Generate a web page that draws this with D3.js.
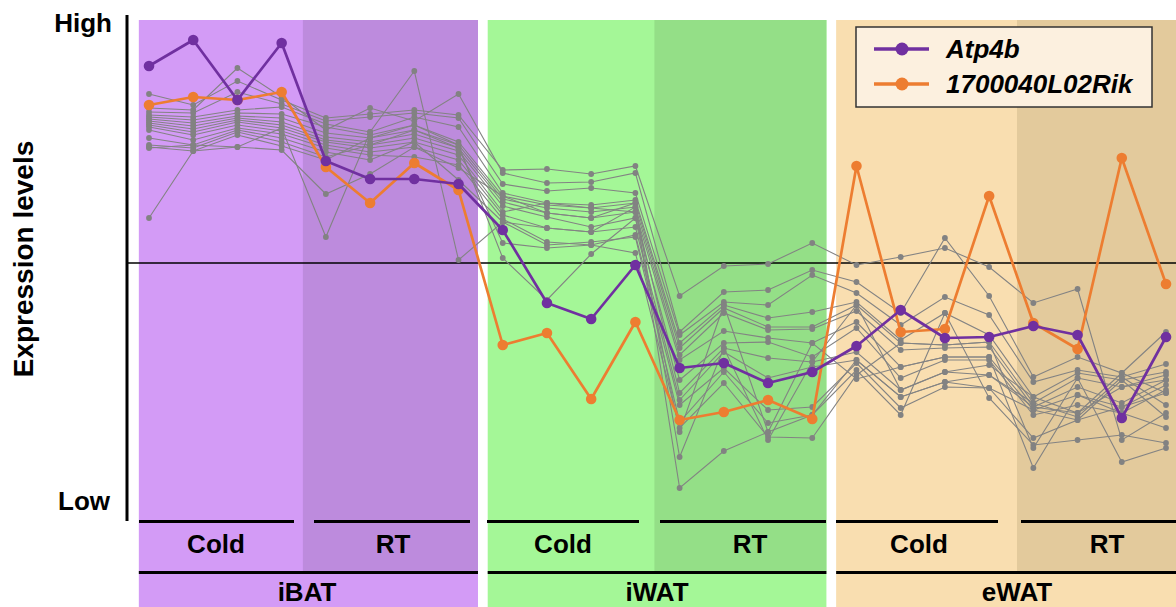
<!DOCTYPE html>
<html>
<head>
<meta charset="utf-8">
<script src="https://cdn.jsdelivr.net/npm/d3@7"></script>
<style>
  html, body { margin: 0; padding: 0; background: #fff; }
  svg { display: block; }
  text { font-family: "Liberation Sans", Arial, sans-serif; font-weight: bold; fill: #000; }
</style>
</head>
<body>
<svg id="chart" width="1176" height="607"></svg>
<script>
// Samples: 3 tissues x 2 conditions x 4 replicates
const tissues = ["iBAT", "iWAT", "eWAT"];
const conditions = ["Cold", "RT"];
const samplesPerCondition = 4;

// Highlighted genes (relative expression, centred at 0)
const atp4b = [1.97, 2.23, 1.63, 2.20, 1.02, 0.84, 0.84, 0.79,
               0.33, -0.40, -0.56, -0.02, -1.05, -1.00, -1.20, -1.09,
               -0.83, -0.47, -0.75, -0.74, -0.63, -0.72, -1.55, -0.74];
const rik1700040L02 = [1.58, 1.66, 1.63, 1.71, 0.96, 0.60, 1.00, 0.73,
               -0.82, -0.70, -1.36, -0.59, -1.57, -1.49, -1.37, -1.56,
               0.97, -0.69, -0.66, 0.67, -0.60, -0.86, 1.05, -0.21];

// Other genes of the cluster
const g01 = [1.69, 1.58, 1.82, 1.63, 1.45, 1.49, 1.53, 1.48, 0.93, 0.94, 0.89, 0.97, -0.33, -0.03, -0.01, 0.20, -0.02, 0.06, 0.15, -0.04, -0.40, -0.26, -1.77, -1.50];
const g02 = [1.55, 1.53, 1.95, 1.66, 1.33, 1.55, 1.42, 1.69, 0.90, 0.80, 0.81, 0.90, -0.69, -0.29, -0.27, -0.07, -0.19, -0.50, 0.25, -0.33, -1.14, -0.94, -1.10, -0.69];
const g03 = [1.51, 1.50, 1.71, 1.59, 1.42, 1.46, 1.50, 1.45, 0.79, 0.72, 0.75, 0.70, -0.72, -0.39, -0.42, -0.12, -0.30, -0.62, -0.34, -0.52, -1.19, -1.07, -1.14, -1.01];
const g04 = [1.48, 1.46, 1.53, 1.56, 1.39, 1.31, 1.46, 1.36, 0.70, 0.60, 0.58, 0.63, -0.80, -0.42, -0.55, -0.49, -0.39, -0.77, -0.50, -0.72, -1.34, -1.10, -1.17, -1.09];
const g05 = [1.46, 1.43, 1.50, 1.49, 1.36, 1.28, 1.38, 1.21, 0.67, 0.58, 0.55, 0.60, -0.85, -0.45, -0.64, -0.64, -0.42, -0.80, -0.82, -0.79, -1.40, -1.15, -1.24, -1.12];
const g06 = [1.44, 1.40, 1.47, 1.45, 1.30, 1.25, 1.33, 1.18, 0.64, 0.55, 0.51, 0.56, -0.92, -0.50, -0.67, -0.66, -0.48, -0.87, -0.85, -0.84, -1.44, -1.24, -1.40, -1.17];
const g07 = [1.42, 1.37, 1.45, 1.41, 1.26, 1.21, 1.29, 1.15, 0.61, 0.50, 0.45, 0.51, -0.97, -0.68, -0.75, -0.80, -0.59, -1.04, -0.94, -0.94, -1.47, -1.32, -1.44, -1.22];
const g08 = [1.40, 1.34, 1.43, 1.38, 1.23, 1.18, 1.25, 1.12, 0.57, 0.46, 0.36, 0.45, -1.17, -0.80, -0.79, -0.94, -0.65, -1.15, -0.97, -0.97, -1.52, -1.42, -1.50, -1.27];
const g09 = [1.38, 1.31, 1.41, 1.35, 1.21, 1.15, 1.21, 1.08, 0.51, 0.60, 0.55, 0.51, -1.30, -0.85, -0.95, -0.99, -0.89, -1.27, -1.09, -1.02, -1.34, -1.50, -1.10, -1.30];
const g10 = [1.36, 1.28, 1.38, 1.32, 1.18, 1.11, 1.16, 1.03, 0.48, 0.35, 0.31, 0.36, -1.37, -0.89, -1.15, -1.04, -0.97, -1.34, -1.19, -1.12, -1.40, -1.54, -1.14, -1.42];
const g11 = [1.33, 1.23, 1.35, 1.29, 1.15, 1.08, 1.06, 0.98, 0.44, 0.21, 0.18, 0.28, -1.42, -1.05, -1.47, -1.44, -1.00, -1.45, -1.24, -1.25, -1.75, -1.57, -1.17, -1.54];
const g12 = [1.25, 1.18, 1.33, 1.25, 1.11, 1.03, 1.21, 0.83, 0.41, 0.18, 0.21, 0.26, -1.59, -1.09, -1.60, -1.52, -1.07, -1.52, -0.50, -1.35, -1.82, -1.77, -1.72, -1.80];
const g13 = [1.18, 1.15, 1.31, 1.21, 1.06, 1.18, 1.33, 1.15, 0.20, 0.15, 0.18, 0.10, -1.65, -1.20, -1.74, -1.75, -1.12, -0.80, -0.82, -0.79, -1.85, -1.15, -1.99, -1.85];
const g14 = [1.16, 1.12, 1.28, 1.17, 1.03, 1.25, 1.38, 1.18, 0.05, -0.37, 0.09, 0.45, -1.69, -0.42, -1.69, -0.80, -1.16, -1.04, -0.94, -0.94, -2.05, -1.32, -1.50, -1.65];
const g15 = [1.15, 1.18, 1.16, 1.13, 0.69, 0.89, 1.16, 0.95, 0.67, 0.50, 0.45, 0.60, -1.94, -0.85, -1.77, -0.99, -0.42, -1.27, -1.09, -1.12, -1.44, -1.50, -1.24, -1.17];
const g16 = [0.45, 1.12, 1.16, 1.35, 0.26, 1.31, 1.92, 0.03, 0.41, 0.35, 0.31, 0.56, -2.25, -1.88, -1.69, -1.52, -0.97, -1.34, -1.19, -1.25, -1.47, -1.57, -1.44, -1.30];
const otherGenes = [g01, g02, g03, g04, g05, g06, g07, g08, g09, g10, g11, g12, g13, g14, g15, g16];

const axisLabels = { top: "High", bottom: "Low", title: "Expression levels" };
const legendNames = ["Atp4b", "1700040L02Rik"];

// ---- layout ----
const svg = d3.select("#chart");
const W = 1176, H = 607;
const nSamples = tissues.length * conditions.length * samplesPerCondition;

const x = d3.scaleLinear().domain([0, nSamples - 1]).range([149, 1166]);
const y = d3.scaleLinear().domain([-2.4, 2.4]).range([503, 23]);

const bandTop = 20, rtBottom = 571;
const palette = {
  iBAT: ["#d39bf6", "#bd8bdd"],
  iWAT: ["#a4f797", "#94df87"],
  eWAT: ["#f9deb0", "#e3ca9c"]
};
// panel extents in sample-index units
const panelSpan = { iBAT: [-0.23, 7.44], iWAT: [7.66, 15.32], eWAT: [15.54, 23.3] };
const splitAt = { iBAT: 3.48, iWAT: 11.43, eWAT: 19.63 };

tissues.forEach(t => {
  const [a, b] = panelSpan[t];
  svg.append("rect")
    .attr("x", x(a)).attr("y", bandTop)
    .attr("width", x(b) - x(a)).attr("height", H - bandTop)
    .attr("fill", palette[t][0]);
  svg.append("rect")
    .attr("x", x(splitAt[t])).attr("y", bandTop)
    .attr("width", x(b) - x(splitAt[t])).attr("height", rtBottom - bandTop)
    .attr("fill", palette[t][1]);
});

// zero reference line
svg.append("line")
  .attr("x1", 127).attr("x2", W).attr("y1", y(0)).attr("y2", y(0))
  .attr("stroke", "#000").attr("stroke-width", 1.5);

const line = d3.line().x((d, i) => x(i)).y(d => y(d));

// background genes
const grey = svg.append("g");
otherGenes.forEach(g => {
  grey.append("path").datum(g)
    .attr("d", line).attr("fill", "none")
    .attr("stroke", "#838383").attr("stroke-width", 1.1);
  grey.selectAll(null).data(g).enter().append("circle")
    .attr("cx", (d, i) => x(i)).attr("cy", d => y(d)).attr("r", 2.9)
    .attr("fill", "#828282");
});

// highlighted genes
const highlight = [
  { values: atp4b, color: "#7030a0" },
  { values: rik1700040L02, color: "#ed7d31" }
];
highlight.slice().reverse().forEach(s => {
  const g = svg.append("g");
  g.append("path").datum(s.values)
    .attr("d", line).attr("fill", "none")
    .attr("stroke", s.color).attr("stroke-width", 2.7).attr("stroke-linejoin", "round");
  g.selectAll(null).data(s.values).enter().append("circle")
    .attr("cx", (d, i) => x(i)).attr("cy", d => y(d)).attr("r", 5.3)
    .attr("fill", s.color);
});

// y axis
svg.append("line")
  .attr("x1", 127).attr("x2", 127).attr("y1", 15).attr("y2", 521)
  .attr("stroke", "#000").attr("stroke-width", 3);
svg.append("text").attr("x", 112).attr("y", 32).attr("text-anchor", "end")
  .style("font-size", "26px").text(axisLabels.top);
svg.append("text").attr("x", 110).attr("y", 510).attr("text-anchor", "end")
  .style("font-size", "26px").text(axisLabels.bottom);
svg.append("text")
  .attr("transform", "translate(33,259) rotate(-90)")
  .attr("text-anchor", "middle")
  .style("font-size", "28px").text(axisLabels.title);

// condition and tissue annotations
const condBars = {
  iBAT: [[139, 294, 216], [314, 470, 393]],
  iWAT: [[487, 639, 563], [660, 826, 750]],
  eWAT: [[836, 998, 919], [1021, 1176, 1107]]
};
const tissueCenter = { iBAT: 307, iWAT: 657, eWAT: 1017 };
tissues.forEach(t => {
  condBars[t].forEach((c, k) => {
    svg.append("line").attr("x1", c[0]).attr("x2", c[1])
      .attr("y1", 521.5).attr("y2", 521.5)
      .attr("stroke", "#000").attr("stroke-width", 3);
    svg.append("text").attr("x", c[2]).attr("y", 553)
      .attr("text-anchor", "middle").style("font-size", "26px")
      .text(conditions[k]);
  });
  const [a, b] = panelSpan[t];
  svg.append("line").attr("x1", x(a)).attr("x2", Math.min(x(b), W))
    .attr("y1", 572.5).attr("y2", 572.5)
    .attr("stroke", "#000").attr("stroke-width", 3);
  svg.append("text").attr("x", tissueCenter[t]).attr("y", 601)
    .attr("text-anchor", "middle").style("font-size", "26px").text(t);
});

// legend
const lg = svg.append("g");
lg.append("rect").attr("x", 856).attr("y", 27).attr("width", 296).attr("height", 80)
  .attr("fill", "#fcf0df").attr("stroke", "#333").attr("stroke-width", 1.5);
highlight.forEach((s, i) => {
  const yy = 49 + i * 35;
  lg.append("line").attr("x1", 874).attr("x2", 929).attr("y1", yy).attr("y2", yy)
    .attr("stroke", s.color).attr("stroke-width", 3.5);
  lg.append("circle").attr("cx", 902).attr("cy", yy).attr("r", 6.5).attr("fill", s.color);
  lg.append("text").attr("x", 946).attr("y", yy + 9)
    .style("font-size", "26px").style("font-style", "italic")
    .text(legendNames[i]);
});
</script>
</body>
</html>
